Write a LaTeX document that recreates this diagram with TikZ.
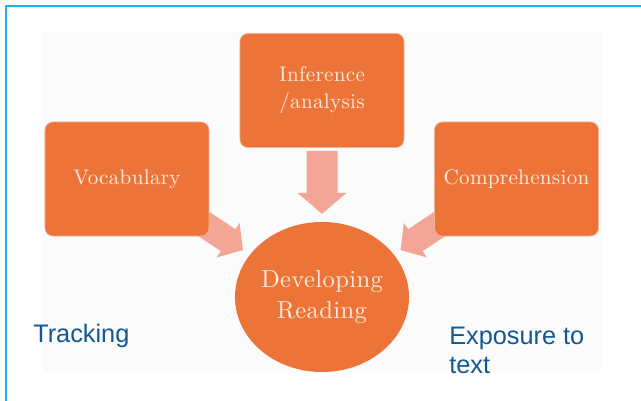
\documentclass[tikz,border=0pt]{standalone}
\usepackage{fontspec}
\usepackage{tikz}
\usetikzlibrary{shapes.geometric,calc,backgrounds}

\newfontfamily\labelsf{Liberation Sans}
\newfontfamily\boxserif{lmroman10-regular}[Extension=.otf, LetterSpace=1.5]

\definecolor{boxorange}{RGB}{237,116,56}
\definecolor{arrowpink}{RGB}{243,166,150}
\definecolor{boxtext}{RGB}{252,234,220}
\definecolor{labelblue}{RGB}{18,88,146}
\definecolor{framecyan}{RGB}{32,178,236}

\tikzset{
  topic/.style={rectangle, rounded corners=0.2cm, fill=boxorange, draw=boxorange!55!white,
    line width=0.5pt, minimum width=4.1cm, minimum height=2.85cm, align=center,
    text=boxtext, font=\boxserif\fontsize{15}{19}\selectfont},
  hub/.style={ellipse, fill=boxorange, minimum width=4.35cm, minimum height=3.75cm,
    inner sep=0pt, align=center, text=boxtext, font=\boxserif\fontsize{17.5}{21.5}\selectfont},
  sidelabel/.style={inner sep=0pt, align=left, text=labelblue,
    font=\labelsf\fontsize{18}{20}\selectfont},
  pics/fatarrow/.style={code={
    \fill[arrowpink] (0,-15.5)--(42,-15.5)--(42,-24.5)--(63,0)--(42,24.5)--(42,15.5)--(0,15.5)--cycle;
  }}
}

\begin{document}
\begin{tikzpicture}[x=0.025cm, y=-0.025cm]
\useasboundingbox (0,0) rectangle (641,401);

\node[topic] (infer) at (322,90.5) {Inference\\/analysis};
\node[topic] (vocab) at (127,179) {Vocabulary};
\node[topic] (compr) at (516.5,179) {Comprehension};
\node[hub] (reading) at (322,297) {Developing\\Reading};

\node[sidelabel, anchor=base west] (track) at (33,342) {Tracking};
\node[sidelabel, anchor=base west] (expo) at (449,373) {Exposure to\\text};

\begin{scope}[on background layer]
\fill[black!1.5] (43,32) rectangle (601,372);
\draw[framecyan, line width=1.1pt] (6,401)--(6,6)--(641,6);

\pic[rotate=-90] at ($(infer.south)+(0,3)$) {fatarrow};
\pic[rotate=-33.7, scale=0.85] at ($(vocab.south east)+(-11,-16)$) {fatarrow};
\pic[rotate=-146.3, scale=0.85] at ($(compr.south west)+(11,-16)$) {fatarrow};
\end{scope}

\end{tikzpicture}
\end{document}
